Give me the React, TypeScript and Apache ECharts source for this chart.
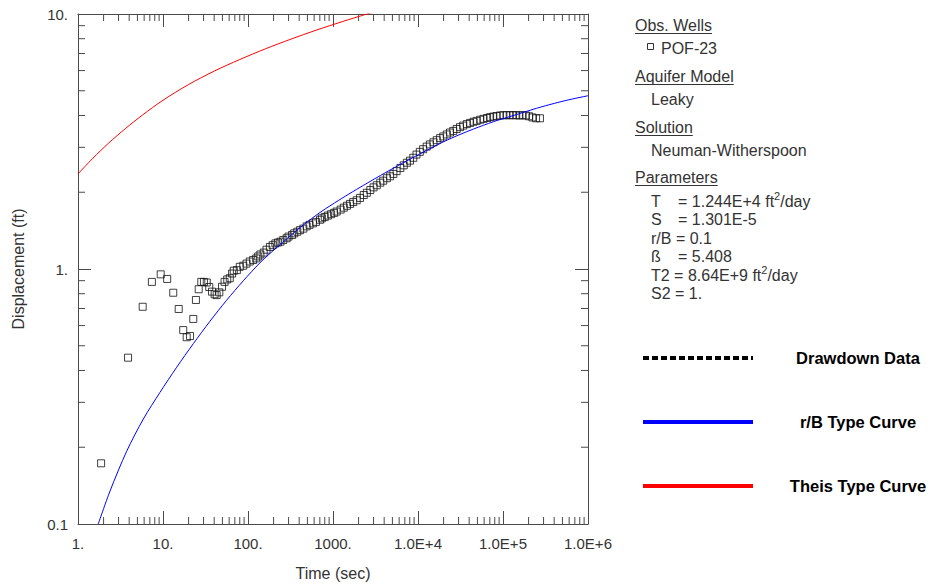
import React, { useEffect, useRef } from 'react';
import * as echarts from 'echarts';

// ---------- axis ticks / labels ----------
const xTickLabels = ['1.', '10.', '100.', '1000.', '1.0E+4', '1.0E+5', '1.0E+6'];
const yTickLabels = ['0.1', '1.', '10.'];
const xDecades = [1, 10, 100, 1000, 10000, 100000];
const yDecades = [0.1, 1];
const minorSteps = [2, 3, 4, 5, 6, 7, 8, 9];

// ---------- observed drawdown, well POF-23 ----------
const obsTime = [
  1.87, 3.88, 5.77, 7.4, 9.4, 11.2, 13.2, 15.3, 17.3, 19, 20.8, 22.7, 24.4, 26.3, 28.2, 30.3,
  32.7, 35, 37.7, 40.5, 42.8, 46, 49.5, 53, 57, 61, 65, 68, 74, 80, 88, 96, 105, 115, 125, 132,
  140, 153, 165, 181, 195, 210, 225, 241, 260, 285, 300, 330, 350, 380, 410, 448, 490, 530, 580,
  630, 703, 740, 800, 870, 950, 1030, 1105, 1230, 1340, 1460, 1590, 1730, 1900, 2080, 2300, 2500,
  2750, 3000, 3270, 3600, 3900, 4300, 4700, 5130, 5600, 6200, 6800, 7400, 8050, 8800, 9600,
  10500, 11500, 12650, 13800, 15200, 16600, 18200, 19850, 21800, 23800, 26000, 28500, 31200,
  34000, 37500, 41000, 45000, 49000, 54000, 59000, 65000, 70500, 76900, 84000, 92000, 101000,
  110000, 120000, 131000, 143000, 156000, 170000, 186000, 203000, 222000, 245000, 272000,
];
const obsDisp = [
  0.173, 0.449, 0.711, 0.89, 0.953, 0.914, 0.807, 0.697, 0.576, 0.54, 0.546, 0.637, 0.756, 0.833, 0.89, 0.89,
  0.885, 0.85, 0.815, 0.796, 0.79, 0.81, 0.852, 0.89, 0.91, 0.92, 0.96, 0.985, 0.99, 1.02, 1.03, 1.05, 1.07, 1.085, 1.1, 1.12,
  1.14, 1.16, 1.19, 1.22, 1.24, 1.26, 1.27, 1.28, 1.3, 1.32, 1.34, 1.36, 1.38, 1.4, 1.42, 1.44, 1.47, 1.49, 1.51,
  1.53, 1.56, 1.58, 1.6, 1.62, 1.64, 1.66, 1.68, 1.71, 1.74, 1.77, 1.8, 1.83, 1.86, 1.9, 1.95, 1.99,
  2.04, 2.09, 2.13, 2.18, 2.22, 2.27, 2.31, 2.36, 2.42, 2.49, 2.55, 2.61, 2.66, 2.73, 2.81,
  2.88, 2.95, 3.02, 3.08, 3.14, 3.2, 3.26, 3.31, 3.37, 3.43, 3.48, 3.54, 3.6,
  3.65, 3.7, 3.74, 3.78, 3.81, 3.85, 3.88, 3.91, 3.94, 3.96, 3.98, 4.0, 4.01,
  4.01, 4.01, 4.01, 4.01, 4.0, 4.01, 4.0, 3.97, 3.93, 3.9, 3.9,
];

// ---------- r/B type curve (leaky) ----------
const rbTime = [
  1.73, 2.38, 3.74, 5.87, 9.2, 14.5, 22.8, 35.7, 56, 88, 138, 181, 285, 448, 703, 947, 1400, 2080,
  3200, 5300, 8000, 12650, 20000, 31200, 45000, 76900, 100900, 140000, 181000, 249000, 400000,
  614000, 1000000,
];
const rbDisp = [
  0.1, 0.1346, 0.193, 0.258, 0.328, 0.412, 0.51, 0.624, 0.754, 0.899, 1.057, 1.15, 1.312, 1.489, 1.666, 1.779, 1.931, 2.09,
  2.273, 2.5, 2.693, 2.918, 3.155, 3.37, 3.54, 3.78, 3.89, 4.02, 4.13, 4.27, 4.46,
  4.62, 4.78,
];

// ---------- Theis type curve ----------
const theisTime = [1, 1.5, 2.3, 3.6, 5.7, 10, 20, 40, 80, 160, 320, 640, 1280, 2560, 5000];
const theisDisp = [2.36, 2.72, 3.12, 3.55, 4.01, 4.59, 5.29, 5.97, 6.63, 7.3, 7.97, 8.65, 9.33, 10.02, 10.69];

// ---------- side panel texts ----------
const paramNames = ['T', 'S', 'r/B', 'ß', 'T2', 'S2'];
const paramValues = ['1.244E+4', '1.301E-5', '0.1', '5.408', '8.64E+9', '1.'];
const paramUnits = ['ft2/day', '', '', '', 'ft2/day', ''];
const legendNames = ['Drawdown Data', 'r/B Type Curve', 'Theis Type Curve'];
const legendColors = ['#000000', '#0000ff', '#ff0000'];

const FONT = '"Liberation Sans", Arial, sans-serif';
const AX = '#4a4a4a';
const TXT = '#333333';

export default function App() {
  const ref = useRef<HTMLDivElement>(null);

  useEffect(() => {
    const chart = echarts.init(ref.current!, null, { renderer: 'svg' });
    const ctx = document.createElement('canvas').getContext('2d')!;
    const measure = (text: string, font: string) => {
      ctx.font = font;
      return ctx.measureText(text).width;
    };

    const f16 = `16px ${FONT}`;
    const graphics: any[] = [];
    const txt = (x: number, y: number, text: string, extra: any = {}) => ({
      type: 'text',
      x,
      y,
      silent: true,
      style: {
        text,
        fill: TXT,
        font: f16,
        textVerticalAlign: 'middle',
        verticalAlign: 'middle',
        ...extra,
      },
    });
    const header = (y: number, text: string) => {
      graphics.push(txt(635, y, text));
      const w = measure(text, f16);
      graphics.push({
        type: 'line',
        silent: true,
        shape: { x1: 635, y1: y + 8.5, x2: 635 + w, y2: y + 8.5 },
        style: { stroke: TXT, lineWidth: 1 },
      });
    };

    header(25, 'Obs. Wells');
    graphics.push({
      type: 'rect',
      silent: true,
      shape: { x: 647.5, y: 43.5, width: 6, height: 6 },
      style: { fill: 'none', stroke: TXT, lineWidth: 1 },
    });
    graphics.push(txt(661, 48, 'POF-23'));
    header(76, 'Aquifer Model');
    graphics.push(txt(651, 99, 'Leaky'));
    header(127, 'Solution');
    graphics.push(txt(651, 150, 'Neuman-Witherspoon'));
    header(177, 'Parameters');

    const richStyles = {
      n: { fontSize: 16, fontFamily: FONT, color: TXT, lineHeight: 22, verticalAlign: 'middle' },
      s: { fontSize: 11, fontFamily: FONT, color: TXT, lineHeight: 11, verticalAlign: 'top' },
    };
    paramNames.forEach((name, i) => {
      const y = 201 + i * 18.5;
      const unit = paramUnits[i] ? ` ${paramUnits[i].replace('2', '}{s|2}{n|')}` : '';
      if (name.length === 1) {
        graphics.push(txt(651, y, name));
        graphics.push(txt(678, y, `{n|= ${paramValues[i]}${unit}}`, { rich: richStyles }));
      } else {
        graphics.push(txt(651, y, `{n|${name} = ${paramValues[i]}${unit}}`, { rich: richStyles }));
      }
    });

    const legendY = [358, 422, 486];
    legendNames.forEach((name, i) => {
      graphics.push({
        type: 'line',
        silent: true,
        shape: { x1: 643, y1: legendY[i], x2: 753, y2: legendY[i] },
        style: {
          stroke: legendColors[i],
          lineWidth: 4,
          lineDash: i === 0 ? [6, 3] : null,
        },
      });
      graphics.push(
        txt(858, legendY[i], name, {
          font: `bold 16.5px ${FONT}`,
          fill: '#000',
          textAlign: 'center',
          align: 'center',
        })
      );
    });

    const axisLine = { show: true, lineStyle: { color: AX, width: 1 } };
    const majorTick = { show: true, inside: true, length: 13, lineStyle: { color: AX, width: 1 } };
    const labelStyle = { color: TXT, fontSize: 15, fontFamily: FONT };
    const nameStyle = { color: TXT, fontSize: 16, fontFamily: FONT };

    const option: any = {
      animation: false,
      grid: { left: 78, right: 348, top: 14, bottom: 62, containLabel: false },
      xAxis: [
        {
          type: 'log',
          logBase: 10,
          min: 1,
          max: 1e6,
          position: 'bottom',
          axisLine,
          axisTick: majorTick,
          splitLine: { show: false },
          minorTick: { show: false },
          axisLabel: {
            ...labelStyle,
            margin: 12,
            showMinLabel: true,
            showMaxLabel: true,
            formatter: (v: number) => xTickLabels[Math.round(Math.log10(v))] ?? '',
          },
          name: 'Time (sec)',
          nameLocation: 'middle',
          nameGap: 41,
          nameTextStyle: nameStyle,
        },
        {
          type: 'log',
          logBase: 10,
          min: 1,
          max: 1e6,
          position: 'top',
          axisLine,
          axisTick: majorTick,
          splitLine: { show: false },
          axisLabel: { show: false },
        },
      ],
      yAxis: [
        {
          type: 'log',
          logBase: 10,
          min: 0.1,
          max: 10,
          position: 'left',
          axisLine,
          axisTick: majorTick,
          splitLine: { show: false },
          minorTick: { show: false },
          axisLabel: {
            ...labelStyle,
            margin: 10,
            showMinLabel: true,
            showMaxLabel: true,
            formatter: (v: number) => yTickLabels[Math.round(Math.log10(v)) + 1] ?? '',
          },
          name: 'Displacement (ft)',
          nameLocation: 'middle',
          nameGap: 52,
          nameTextStyle: nameStyle,
        },
        {
          type: 'log',
          logBase: 10,
          min: 0.1,
          max: 10,
          position: 'right',
          axisLine,
          axisTick: majorTick,
          splitLine: { show: false },
          axisLabel: { show: false },
        },
      ],
      series: [
        {
          type: 'custom',
          xAxisIndex: 0,
          yAxisIndex: 0,
          silent: true,
          z: 1,
          data: [[1, 1]],
          renderItem: (_params: any, api: any) => {
            const [left, bottom] = api.coord([1, 0.1]);
            const [right, top] = api.coord([1e6, 10]);
            const st = { stroke: AX, lineWidth: 1 };
            const children: any[] = [];
            xDecades.forEach((d) =>
              minorSteps.forEach((m) => {
                const x = api.coord([d * m, 1])[0];
                children.push({ type: 'line', shape: { x1: x, y1: bottom, x2: x, y2: bottom - 7 }, style: st });
                children.push({ type: 'line', shape: { x1: x, y1: top, x2: x, y2: top + 7 }, style: st });
              })
            );
            yDecades.forEach((d) =>
              minorSteps.forEach((m) => {
                const y = api.coord([1, d * m])[1];
                children.push({ type: 'line', shape: { x1: left, y1: y, x2: left + 7, y2: y }, style: st });
                children.push({ type: 'line', shape: { x1: right, y1: y, x2: right - 7, y2: y }, style: st });
              })
            );
            return { type: 'group', children };
          },
        },
        {
          name: 'POF-23',
          type: 'scatter',
          data: obsTime.map((t, i) => [t, obsDisp[i]]),
          symbol: 'rect',
          symbolSize: 7,
          itemStyle: { color: 'rgba(0,0,0,0)', borderColor: '#111', borderWidth: 1 },
          z: 3,
        },
        {
          name: 'r/B Type Curve',
          type: 'line',
          data: rbTime.map((t, i) => [t, rbDisp[i]]),
          showSymbol: false,
          symbol: 'none',
          smooth: 0.3,
          lineStyle: { color: '#0000ff', width: 1 },
          z: 4,
        },
        {
          name: 'Theis Type Curve',
          type: 'line',
          data: theisTime.map((t, i) => [t, theisDisp[i]]),
          showSymbol: false,
          symbol: 'none',
          smooth: 0.3,
          lineStyle: { color: '#ff0000', width: 1 },
          z: 4,
        },
      ],
      graphic: { elements: graphics },
    };

    chart.setOption(option);
    return () => chart.dispose();
  }, []);

  return (
    <div
      ref={ref}
      style={{ position: 'absolute', left: 0, top: 0, width: 936, height: 586, background: '#fff' }}
    />
  );
}
